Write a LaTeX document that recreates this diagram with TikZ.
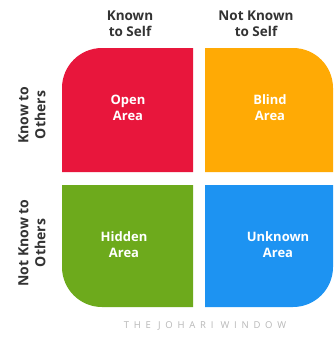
\documentclass[tikz,border=0pt]{standalone}
\usepackage{fontspec}
\setmainfont{Open Sans}
\definecolor{jred}{HTML}{E8163C}
\definecolor{jorange}{HTML}{FFAA05}
\definecolor{jgreen}{HTML}{6DAA1C}
\definecolor{jblue}{HTML}{1D93F2}
\definecolor{jtext}{HTML}{333333}
\definecolor{jgray}{HTML}{B8B8B8}
\begin{document}
\begin{tikzpicture}[x=1pt,y=-1pt,
  head/.style={font=\fontsize{13.5}{16}\selectfont\bfseries, text=jtext, align=center},
  area/.style={font=\fontsize{13}{16}\selectfont\bfseries, text=white, align=center},
  side/.style={font=\fontsize{14}{17}\selectfont\bfseries, text=jtext, align=center, rotate=90}]
\useasboundingbox (0,0) rectangle (336,338);
\fill[white] (0,0) rectangle (336,338);
% quadrants
\fill[jred] (62,172) -- (62,88) arc[start angle=180,end angle=90,x radius=40,y radius=-40] -- (193,48) -- (193,172) -- cycle;
\fill[jorange] (205,172) -- (205,48) -- (293,48) arc[start angle=90,end angle=0,x radius=40,y radius=-40] -- (333,172) -- cycle;
\fill[jgreen] (62,185) -- (193,185) -- (193,307) -- (102,307) arc[start angle=270,end angle=180,x radius=40,y radius=-40] -- cycle;
\fill[jblue] (205,185) -- (333,185) -- (333,267) arc[start angle=0,end angle=-90,x radius=40,y radius=-40] -- (205,307) -- cycle;
% area labels
\node[area] (open) at (128,108) {Open\\Area};
\node[area] (blind) at (270,108) {Blind\\Area};
\node[area] (hidden) at (124,245) {Hidden\\Area};
\node[area] (unknown) at (278,245) {Unknown\\Area};
% headings
\node[head] (kself) at (130,24) {Known\\to Self};
\node[head] (nkself) at (256,24) {Not Known\\to Self};
\node[side] (kothers) at (32,115) {Know to\\Others};
\node[side] (nkothers) at (32,243) {Not Know to\\Others};
% footer
\node[font=\fontsize{9.5}{11}\selectfont, text=jgray] (title) at (205,326) {\addfontfeature{LetterSpace=50}THE JOHARI WINDOW};
\end{tikzpicture}
\end{document}
